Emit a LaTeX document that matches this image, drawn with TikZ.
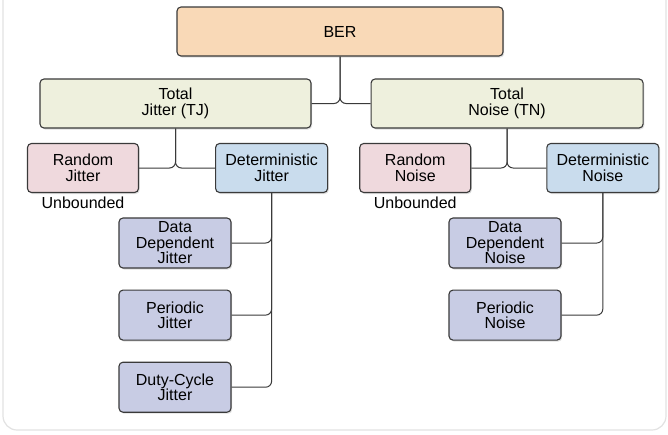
\documentclass[tikz,border=0pt]{standalone}
\usepackage{fontspec}
\setmainfont{Liberation Sans}
\usepackage{xcolor}
\usepackage{tikz}
\usetikzlibrary{positioning, shadows}

\definecolor{berfill}{HTML}{F9D9B7}
\definecolor{totalfill}{HTML}{EEF0DD}
\definecolor{randfill}{HTML}{EFD9DD}
\definecolor{detfill}{HTML}{C9DCED}
\definecolor{subfill}{HTML}{C8CCE4}
\definecolor{boxline}{HTML}{3A3A3A}
\definecolor{panelline}{HTML}{E2E2E2}

\tikzset{
  box/.style={draw=boxline, line width=1.1pt, rounded corners=4pt, align=center,
    inner sep=0pt, minimum height=49pt, font=\fontsize{16}{16.5}\selectfont,
    drop shadow={shadow xshift=1.2pt, shadow yshift=-1.5pt, opacity=0.25}},
  subbox/.style={box, fill=subfill, minimum width=112pt, minimum height=50pt,
    font=\fontsize{16}{15.5}\selectfont},
  link/.style={draw=boxline, line width=1pt, rounded corners=6pt},
}

\begin{document}
\begin{tikzpicture}[x=1pt, y=1pt]
    \useasboundingbox (0,0) rectangle (668,-434);
    \draw[panelline, line width=1.2pt, fill=white, rounded corners=14pt] (3,20) rectangle (666,-430);

    \node[box, fill=berfill, minimum width=326pt] (ber) at (340,-31.5) {BER};
    \node[box, fill=totalfill, minimum width=271pt] (tj) at (175.5,-103.5) {Total\\Jitter (TJ)};
    \node[box, fill=totalfill, minimum width=272pt, right=59pt of tj] (tn) {Total\\Noise (TN)};

    \node[box, fill=randfill, minimum width=111pt] (rj) at (83,-168) {Random\\Jitter}
      node at (rj.south) [below, font=\fontsize{16}{16.5}\selectfont] {Unbounded};
    \node[box, fill=detfill, minimum width=112pt, right=76pt of rj] (dj) {Deterministic\\Jitter};
    \node[box, fill=randfill, minimum width=111pt, right=31pt of dj] (rn) {Random\\Noise}
      node at (rn.south) [below, font=\fontsize{16}{16.5}\selectfont] {Unbounded};
    \node[box, fill=detfill, minimum width=112pt, right=75pt of rn] (dn) {Deterministic\\Noise};

    \node[subbox] (ddj) at (175,-243) {Data\\Dependent\\Jitter};
    \node[subbox, below=21pt of ddj] (pj) {Periodic\\Jitter};
    \node[subbox, below=21pt of pj] (dcj) {Duty-Cycle\\Jitter};

    \node[subbox] (ddn) at (505,-243) {Data\\Dependent\\Noise};
    \node[subbox, below=21pt of ddn] (pn) {Periodic\\Noise};

    \draw[link] (ber.south) |- (tj.east);
    \draw[link] (ber.south) |- (tn.west);
    \draw[link] (tj.south) |- (rj.east);
    \draw[link] (tj.south) |- (dj.west);
    \draw[link] (tn.south) |- (rn.east);
    \draw[link] (tn.south) |- (dn.west);
    \foreach \b in {ddj, pj, dcj}
      \draw[link] (dj.south) |- (\b.east);
    \foreach \b in {ddn, pn}
      \draw[link] (dn.south) |- (\b.east);
  \end{tikzpicture}
\end{document}
